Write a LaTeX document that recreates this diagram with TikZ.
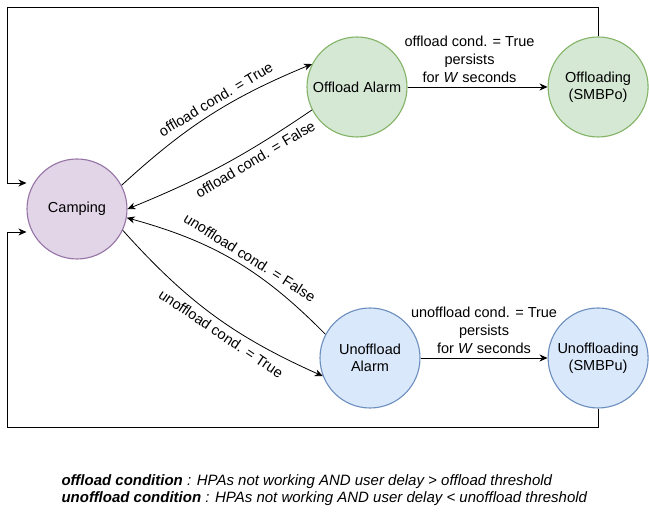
\documentclass[tikz,border=0pt]{standalone}
\usepackage{fontspec}
\setmainfont{Liberation Sans}
\usetikzlibrary{arrows.meta, positioning}
\definecolor{colCampFill}{HTML}{E1D5E7}
\definecolor{colCampLine}{HTML}{9673A6}
\definecolor{colOffFill}{HTML}{D5E8D4}
\definecolor{colOffLine}{HTML}{82B366}
\definecolor{colUnoffFill}{HTML}{DAE8FC}
\definecolor{colUnoffLine}{HTML}{6C8EBF}

\begin{document}
\begin{tikzpicture}[
  x=1pt, y=1pt,
  state/.style={circle, draw=#1Line, fill=#1Fill, line width=1.1pt, minimum size=100pt,
                inner sep=0pt, align=center, font=\fontsize{14.5}{17}\selectfont},
  arr/.style={-{Stealth[length=8pt, width=7pt, inset=2.5pt]}, line width=0.8pt, black},
  cond/.style={font=\fontsize{14.5}{18}\selectfont, align=center, inner sep=3.5pt, #1},
  curvecond/.style={font=\fontsize{14.5}{17.5}\selectfont, sloped, inner sep=5pt, #1},
]
\useasboundingbox (0,0) rectangle (649,518);

% ─── STATES ───────────────────────────────────────────────────────────────────
\node[state=colCamp] (camping) at (77,309) {Camping};
\node[state=colOff] (offalarm) at (357,431) {Offload Alarm};
\node[state=colOff, right=140pt of offalarm] (offloading) {Offloading\\(SMBPo)};
\node[state=colUnoff] (unoffalarm) at (370,160) {Unoffload\\Alarm};
\node[state=colUnoff, right=127pt of unoffalarm] (unoffloading) {Unoffloading\\(SMBPu)};

% ─── OFFLOAD BRANCH ───────────────────────────────────────────────────────────
\draw[arr] (camping.28) to[bend left=10] node[curvecond=above, pos=0.56] {offload cond. = True} (offalarm.153);
\draw[arr] (offalarm.207) to[bend left=6] node[curvecond=below, pos=0.34] {offload cond. = False} (camping.0);
\draw[arr] (offalarm) -- node[cond, above, xshift=-8pt] {offload cond. = True\\persists\\for \textit{W} seconds} (offloading);

% ─── UNOFFLOAD BRANCH ─────────────────────────────────────────────────────────
\draw[arr] (unoffalarm.152) to[bend right=15] node[curvecond=above, pos=0.45] {unoffload cond. = False} (camping.350);
\draw[arr] (camping.335) to[bend right=12] node[curvecond=below, pos=0.57] {unoffload cond. = True} (unoffalarm.201);
\draw[arr] (unoffalarm) -- node[cond, above] {unoffload cond. = True\\persists\\for \textit{W} seconds} (unoffloading);

% ─── RETURN LOOPS ─────────────────────────────────────────────────────────────
\coordinate (looptop) at (7,511);
\coordinate (loopbot) at (7,91);
\draw[arr] (offloading.north) |- (looptop) |- ([yshift=26pt]camping.west);
\draw[arr] (unoffloading.south) |- (loopbot) |- ([yshift=-23pt]camping.west);

% ─── LEGEND ───────────────────────────────────────────────────────────────────
\node[anchor=west, align=left, font=\fontsize{15}{17.5}\selectfont\itshape] (legend) at (58,28) {
  \textbf{offload condition} : HPAs not working AND user delay > offload threshold\\
  \textbf{unoffload condition} : HPAs not working AND user delay < unoffload threshold};

\end{tikzpicture}
\end{document}
